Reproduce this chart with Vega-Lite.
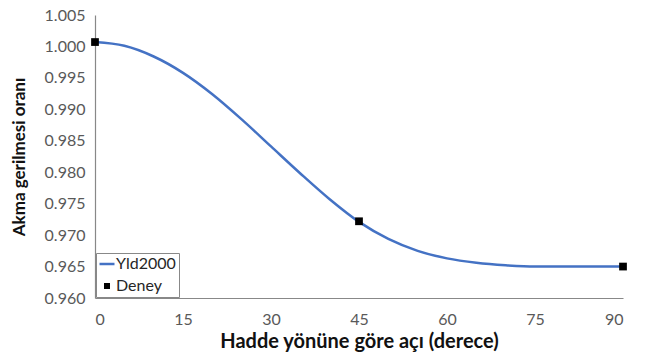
{
  "$schema": "https://vega.github.io/schema/vega-lite/v6.json",
  "width": 528,
  "height": 283,
  "autosize": {"type": "none"},
  "padding": {"left": 95, "top": 15, "right": 26, "bottom": 58},
  "background": "white",
  "config": {"view": {"stroke": null}, "font": "Lato"},
  "datasets": {
    "curve": [
      {"angle": 0, "ratio": 1.0007, "series": "Yld2000"},
      {"angle": 5, "ratio": 1.0001, "series": "Yld2000"},
      {"angle": 10, "ratio": 0.9984, "series": "Yld2000"},
      {"angle": 15, "ratio": 0.9958, "series": "Yld2000"},
      {"angle": 20, "ratio": 0.9924, "series": "Yld2000"},
      {"angle": 25, "ratio": 0.9884, "series": "Yld2000"},
      {"angle": 30, "ratio": 0.9841, "series": "Yld2000"},
      {"angle": 35, "ratio": 0.9798, "series": "Yld2000"},
      {"angle": 40, "ratio": 0.9757, "series": "Yld2000"},
      {"angle": 45, "ratio": 0.9721, "series": "Yld2000"},
      {"angle": 50, "ratio": 0.9694, "series": "Yld2000"},
      {"angle": 55, "ratio": 0.9675, "series": "Yld2000"},
      {"angle": 60, "ratio": 0.9663, "series": "Yld2000"},
      {"angle": 65, "ratio": 0.9656, "series": "Yld2000"},
      {"angle": 70, "ratio": 0.9652, "series": "Yld2000"},
      {"angle": 75, "ratio": 0.9650, "series": "Yld2000"},
      {"angle": 80, "ratio": 0.9650, "series": "Yld2000"},
      {"angle": 85, "ratio": 0.9650, "series": "Yld2000"},
      {"angle": 90, "ratio": 0.9650, "series": "Yld2000"}
    ],
    "deney": [
      {"angle": 0, "ratio": 1.0007, "series": "Deney"},
      {"angle": 45, "ratio": 0.9722, "series": "Deney"},
      {"angle": 90, "ratio": 0.965, "series": "Deney"}
    ]
  },
  "encoding": {
    "x": {
      "field": "angle",
      "type": "quantitative",
      "scale": {"domain": [0, 90], "nice": false},
      "axis": {
        "title": "Hadde yönüne göre açı (derece)",
        "values": [0, 15, 30, 45, 60, 75, 90],
        "ticks": false,
        "grid": false,
        "domainColor": "#888888",
        "domainWidth": 1.2,
        "labelColor": "#595959",
        "labelFontSize": 16,
        "labelPadding": 13,
        "titleFontSize": 20,
        "titleFontWeight": "bold",
        "titleColor": "#111111",
        "titlePadding": 4
      }
    },
    "y": {
      "field": "ratio",
      "type": "quantitative",
      "scale": {"domain": [0.96, 1.005], "nice": false, "zero": false},
      "axis": {
        "title": "Akma gerilmesi oranı",
        "values": [0.96, 0.965, 0.97, 0.975, 0.98, 0.985, 0.99, 0.995, 1.0, 1.005],
        "format": ".3f",
        "ticks": false,
        "grid": false,
        "domainColor": "#888888",
        "domainWidth": 1.2,
        "labelColor": "#595959",
        "labelFontSize": 16,
        "labelPadding": 10,
        "titleFontSize": 17,
        "titleFontWeight": "bold",
        "titleColor": "#111111",
        "titlePadding": 16
      }
    },
    "color": {
      "field": "series",
      "type": "nominal",
      "scale": {"domain": ["Yld2000", "Deney"], "range": ["#4472C4", "#000000"]},
      "legend": {
        "title": null,
        "orient": "bottom-left",
        "offset": 1,
        "strokeColor": "#888888",
        "fillColor": "white",
        "padding": 3,
        "rowPadding": 6,
        "labelFontSize": 16,
        "labelColor": "#262626",
        "labelOffset": 1,
        "symbolSize": 225,
        "encode": {
          "symbols": {
            "update": {
              "shape": {"signal": "datum.value === 'Yld2000' ? 'M-1,0H1' : 'M-0.4,-0.4H0.4V0.4H-0.4Z'"},
              "stroke": {"signal": "datum.value === 'Yld2000' ? '#4472C4' : '#000000'"},
              "fill": {"signal": "datum.value === 'Yld2000' ? 'transparent' : '#000000'"},
              "strokeWidth": {"signal": "datum.value === 'Yld2000' ? 2.5 : 0"},
              "opacity": {"value": 1}
            }
          }
        }
      }
    }
  },
  "layer": [
    {
      "data": {"name": "curve"},
      "mark": {"type": "line", "strokeWidth": 2.5, "interpolate": "monotone"}
    },
    {
      "data": {"name": "deney"},
      "mark": {"type": "point", "shape": "square", "filled": true, "size": 60, "opacity": 1}
    }
  ]
}
